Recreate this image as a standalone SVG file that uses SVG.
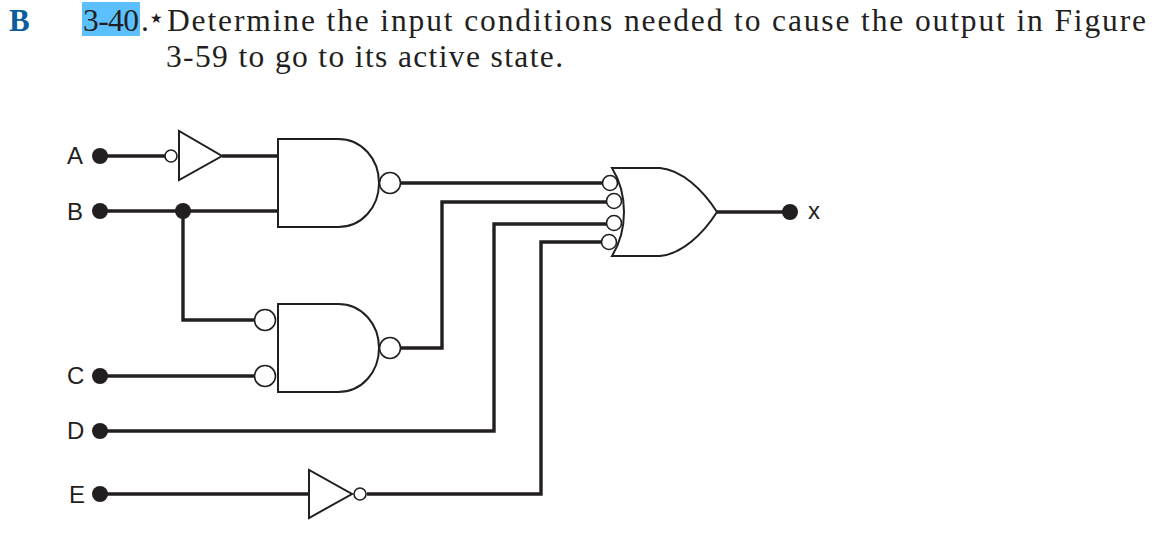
<svg xmlns="http://www.w3.org/2000/svg" width="1162" height="540" viewBox="0 0 1162 540">
<style>
.t{font-family:"Liberation Serif","DejaVu Serif",serif;font-size:31.5px;fill:#231f20}
.l{font-family:"Liberation Sans",Arial,sans-serif;font-size:24px;fill:#231f20}
.g{fill:#fff;stroke:#231f20;stroke-width:2}
.b{fill:#fff;stroke:#231f20;stroke-width:1.6}
.d{fill:#231f20}
.w{fill:none;stroke:#231f20;stroke-width:3.4}
</style>
<rect width="1162" height="540" fill="#fff"/>
<rect x="82" y="2" width="58" height="34" fill="#5cc0ff"/>
<g id="heading">
<text x="9" y="31" style="font-family:'Liberation Serif',serif;font-size:31px;font-weight:bold;fill:#0a5c9c">B</text>
<text class="t" x="83" y="31" textLength="56">3-40</text>
<text class="t" x="141" y="31">.</text>
<text x="150" y="23" style="font-family:'DejaVu Sans',sans-serif;font-size:14px;fill:#231f20">★</text>
<text class="t" x="167" y="31" textLength="979">Determine the input conditions needed to cause the output in Figure</text>
<text class="t" x="166" y="67" textLength="397">3-59 to go to its active state.</text>
</g>
<g id="connectors">
<path class="w" d="M100 156H165M222 156H278"/>
<path class="w" d="M100 211H278"/>
<path class="w" d="M183 211V320H255"/>
<path class="w" d="M100 376H255"/>
<path class="w" d="M401 183H604"/>
<path class="w" d="M401 348H442V202H608"/>
<path class="w" d="M100 431H494V224H608"/>
<path class="w" d="M100 494H310M367 494H541V242H603"/>
<path class="w" d="M717 212H790"/>
<circle class="d" cx="183" cy="211" r="8"/>
</g>
<g id="A"><text class="l" x="67" y="164">A</text><circle class="d" cx="100" cy="156" r="8"/></g>
<g id="B"><text class="l" x="67" y="220">B</text><circle class="d" cx="100" cy="211" r="8"/></g>
<g id="C"><text class="l" x="67" y="384">C</text><circle class="d" cx="100" cy="376" r="8"/></g>
<g id="D"><text class="l" x="67" y="439">D</text><circle class="d" cx="100" cy="431" r="8"/></g>
<g id="E"><text class="l" x="69" y="503">E</text><circle class="d" cx="100" cy="494" r="8"/></g>
<g id="X"><circle class="d" cx="790" cy="212" r="8"/><text class="l" x="808" y="219">x</text></g>
<g id="buf1"><circle class="b" cx="171" cy="156" r="6"/><path class="g" d="M179 131V180L222 156Z"/></g>
<g id="and1"><path class="g" d="M278 139H338C362 139 379 159 379 183C379 207 362 227 338 227H278Z"/><circle class="b" cx="390" cy="183" r="10.500"/></g>
<g id="and2"><circle class="b" cx="265" cy="320" r="10.500"/><circle class="b" cx="265" cy="376" r="10.500"/><path class="g" d="M278 304H338C362 304 379 324 379 348C379 372 362 392 338 392H278Z"/><circle class="b" cx="390" cy="348" r="10.500"/></g>
<g id="inv"><path class="g" d="M309 470V518L352 494Z"/><circle class="b" cx="360" cy="494" r="6"/></g>
<g id="or"><circle class="b" cx="610" cy="183" r="7.500"/><circle class="b" cx="614" cy="201" r="7.500"/><circle class="b" cx="614" cy="223" r="7.500"/><circle class="b" cx="609" cy="242" r="7.500"/><path class="g" d="M612 168H660C682 170 703 190 717 212C703 234 682 254 660 256H612C628 230 628 194 612 168Z"/></g>
</svg>
